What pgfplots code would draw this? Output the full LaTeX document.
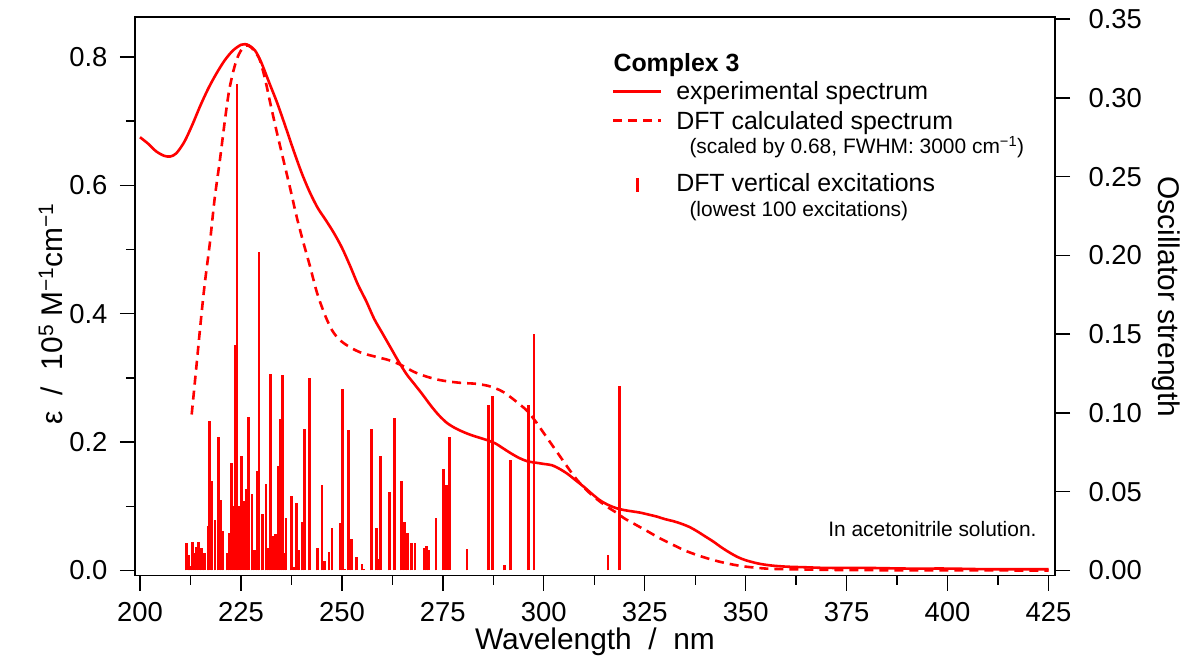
\documentclass[border=0pt]{standalone}
\usepackage{fontspec}
\setmainfont{Liberation Sans}
\usepackage{pgfplots}
\pgfplotsset{compat=1.18}
\definecolor{specred}{RGB}{255,0,0}
\begin{document}
\begin{tikzpicture}
\pgfplotsset{
  common/.style={
    scale only axis, width=920bp, height=558.5bp,
    xmin=198.76, xmax=426.61,
    tick align=outside,
    major tick length=15bp, minor tick length=9bp,
    every tick/.style={black, line width=1.4bp},
    axis line style={black, line width=1.4bp},
    tick label style={font=\fontsize{27.5}{33}\selectfont},
    label style={font=\fontsize{30}{36}\selectfont},
    /pgf/number format/assume math mode=true,
  },
}
\begin{axis}[common, name=ax,
  ymin=-0.0078, ymax=0.8623,
  xtick={200,225,250,275,300,325,350,375,400,425}, minor x tick num=1,
  ytick={0,0.2,0.4,0.6,0.8}, minor y tick num=1,
  xtick pos=left, ytick pos=left,
  yticklabel style={xshift=-9bp, /pgf/number format/.cd, fixed, fixed zerofill, precision=1},
  xticklabel style={yshift=-8bp},
  xlabel={Wavelength\ \ /\ \ nm},
  xlabel style={at={(axis description cs:0.5,-0.1325)}, anchor=base},
  ylabel={ε\ \ /\ \ 10\textsuperscript{5} M\textsuperscript{−1}cm\textsuperscript{−1}},
  ylabel style={at={(axis description cs:-0.0793,0.4682)}, anchor=base},
]
% experimental spectrum
\addplot[specred, line width=2.6bp, smooth] coordinates {
(200,0.675) (202,0.665) (204,0.653) (206,0.646) (207.5,0.645) (209,0.650)
(211,0.668) (213,0.695) (215,0.725) (217,0.752) (219,0.775) (221,0.795)
(223,0.810) (225,0.819) (226,0.820) (227,0.818) (228.5,0.810) (230,0.792)
(232,0.760) (234,0.728) (236,0.692) (238,0.655) (240,0.620) (242,0.590)
(244,0.565) (246,0.546) (248,0.526) (250,0.503) (252,0.475) (254,0.445)
(256,0.420) (258,0.392) (260,0.370) (262,0.348) (264,0.326) (266,0.306)
(268,0.290) (270,0.274) (272,0.257) (274,0.242) (276,0.230) (278,0.222)
(280,0.216) (282,0.211) (284,0.207) (286,0.203) (288,0.198) (290,0.190)
(292,0.182) (294,0.175) (296,0.170) (298,0.168) (300,0.166) (302,0.164)
(304,0.158) (306,0.150) (308,0.140) (310,0.130) (312,0.119) (314,0.109)
(316,0.102) (318,0.097) (320,0.094) (322,0.092) (324,0.090) (326,0.087)
(328,0.084) (330,0.080) (332,0.077) (334,0.073) (336,0.068) (338,0.061)
(340,0.053) (342,0.045) (344,0.036) (346,0.028) (348,0.021) (350,0.016)
(353,0.011) (356,0.008) (360,0.006) (365,0.005) (370,0.004) (380,0.004)
(390,0.003) (400,0.003) (410,0.002) (425,0.002)
};
% DFT calculated spectrum
\addplot[specred, line width=2.6bp, dash pattern=on 9bp off 6bp, smooth] coordinates {
(212.8,0.243) (214,0.320) (215,0.385) (216,0.445) (217.3,0.510) (218.5,0.580)
(219.8,0.640) (221,0.700) (222,0.745) (223,0.775) (224,0.797) (225,0.810)
(226.3,0.818) (227.5,0.815) (228.7,0.806) (229.7,0.795) (231,0.765) (232.2,0.730)
(233.8,0.685) (235.5,0.640) (237.2,0.595) (238.8,0.551) (240.5,0.510) (242.1,0.474)
(243.5,0.440) (244.5,0.420) (246,0.395) (247.5,0.375) (249,0.362) (250.5,0.354)
(252.5,0.346) (254.5,0.340) (256.5,0.336) (259,0.332) (262,0.327) (265,0.319)
(268,0.309) (271,0.302) (274,0.297) (277,0.294) (280,0.292) (283,0.291)
(286,0.288) (288,0.284) (290,0.278) (292,0.269) (294,0.259) (296,0.248)
(298,0.232) (300,0.214) (302,0.196) (304,0.178) (306,0.160) (308,0.143)
(310,0.129) (312,0.117) (314,0.107) (316,0.098) (318,0.090) (320,0.081)
(322,0.074) (324,0.067) (326,0.060) (328.8,0.050) (332,0.040) (335,0.031)
(338,0.024) (341,0.018) (344,0.013) (347,0.009) (350,0.006) (355,0.003)
(360,0.002) (370,0.001) (380,0.0005) (400,0.0002) (425,0.0)
};
\node[anchor=base east, font=\fontsize{21}{25}\selectfont] at (axis description cs:0.9837,0.0707) {In acetonitrile solution.};
\end{axis}
\begin{axis}[common,
  ymin=-0.0032, ymax=0.3513,
  axis x line=none, axis y line*=right,
  ytick={0,0.05,0.1,0.15,0.2,0.25,0.3,0.35},
  yticklabel style={xshift=15bp, /pgf/number format/.cd, fixed, fixed zerofill, precision=2},
  ylabel={Oscillator strength},
  ylabel style={at={(axis description cs:1.112,0.4987)}, anchor=base, rotate=180},
]
\addplot[ycomb, specred, line width=2.6bp, mark=none]
coordinates {
(211.5,0.0176) (212.1,0.010) (212.5,0.003) (213.0,0.018) (213.5,0.011) (214.0,0.015)
(214.5,0.018) (215.2,0.014) (215.9,0.011) (216.9,0.028) (217.2,0.095) (217.8,0.057)
(218.6,0.032) (219.4,0.085) (220.1,0.045) (220.6,0.025) (221.6,0.011) (222.1,0.024)
(222.7,0.068) (223.2,0.041) (223.5,0.143) (224.0,0.309) (224.4,0.041) (225.1,0.0725)
(225.8,0.044) (226.3,0.052) (226.9,0.0975) (227.7,0.0486) (228.4,0.013) (229.0,0.063)
(229.5,0.202) (230.3,0.036) (231.2,0.055) (231.8,0.0144) (232.3,0.125) (232.9,0.022)
(233.5,0.023) (234.2,0.066) (234.8,0.096) (235.3,0.124) (235.7,0.011) (236.2,0.033)
(237.5,0.047) (238.1,0.002) (238.8,0.043) (239.4,0.013) (240.3,0.031) (240.8,0.090)
(242.0,0.122) (243.9,0.014) (245.1,0.054) (245.7,0.006) (246.8,0.012) (247.5,0.027)
(249.5,0.030) (250.1,0.115) (250.6,0.001) (251.7,0.089) (252.4,0.020) (253.6,0.0087)
(255.0,0.004) (255.5,0.001) (257.4,0.090) (258.5,0.027) (259.0,0.007) (259.6,0.0725)
(261.8,0.050) (263.1,0.097) (264.7,0.057) (265.5,0.031) (266.2,0.024) (267.2,0.0176)
(268.1,0.0176) (270.3,0.0144) (270.9,0.0154) (271.4,0.013) (273.3,0.033) (275.2,0.0645)
(275.9,0.0545) (276.6,0.0845) (281.0,0.0138) (286.3,0.105) (287.3,0.1105) (290.2,0.0034)
(291.8,0.070) (296.2,0.105) (297.6,0.150) (315.9,0.010) (318.8,0.117)
};
% legend
\node[anchor=base west, font=\fontsize{25}{30}\selectfont\bfseries] at (axis description cs:0.5163,0.9020) {Complex 3};
\draw[specred, line width=2.6bp] (axis description cs:0.5196,0.8662) -- (axis description cs:0.5717,0.8662);
\node[anchor=base west, font=\fontsize{25}{30}\selectfont] at (axis description cs:0.5845,0.8514) {experimental spectrum};
\draw[specred, line width=2.6bp, dash pattern=on 9bp off 6bp] (axis description cs:0.5196,0.8147) -- (axis description cs:0.5717,0.8147);
\node[anchor=base west, font=\fontsize{25}{30}\selectfont] at (axis description cs:0.5845,0.7977) {DFT calculated spectrum};
\node[anchor=base west, font=\fontsize{21}{25}\selectfont] at (axis description cs:0.5989,0.7547) {(scaled by 0.68, FWHM: 3000 cm\textsuperscript{−1})};
\draw[specred, line width=2.6bp] (axis description cs:0.5464,0.6867) -- (axis description cs:0.5464,0.7117);
\node[anchor=base west, font=\fontsize{25}{30}\selectfont] at (axis description cs:0.5845,0.6872) {DFT vertical excitations};
\node[anchor=base west, font=\fontsize{21}{25}\selectfont] at (axis description cs:0.5989,0.6424) {(lowest 100 excitations)};
\end{axis}
\pgfresetboundingbox
\path[use as bounding box] ([shift={(-135bp,-81.5bp)}]ax.south west) rectangle ([shift={(1049bp,575.5bp)}]ax.south west);
\end{tikzpicture}
\end{document}
